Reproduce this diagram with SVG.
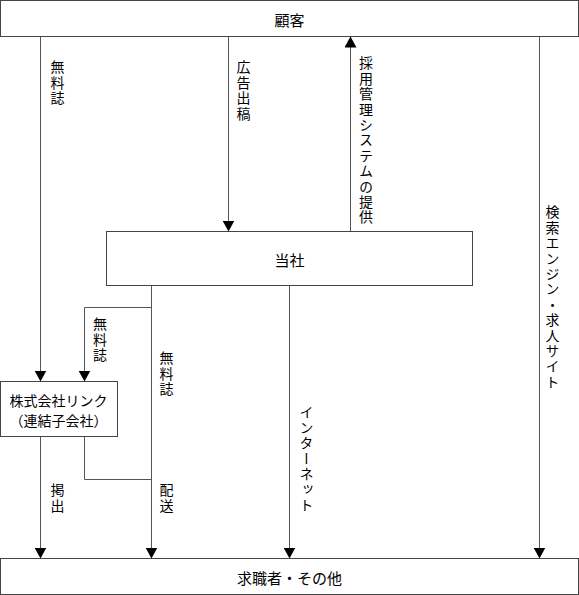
<svg xmlns="http://www.w3.org/2000/svg" width="579" height="595" viewBox="0 0 579 595">
<style>
.box{fill:#fff;stroke:#444;stroke-width:1}
.ln{fill:none;stroke:#555;stroke-width:1}
text{font-family:"Noto Sans CJK JP","Noto Sans",sans-serif;fill:#000}
.t{font-size:15px;text-anchor:middle;dominant-baseline:central}
.s{font-size:14px;text-anchor:middle;dominant-baseline:central}
.v{font-size:14px;writing-mode:vertical-rl;letter-spacing:1.4px;text-anchor:start}
</style>
<defs>
<marker id="ah" markerWidth="11" markerHeight="12" refX="11" refY="6" orient="auto" markerUnits="userSpaceOnUse" viewBox="0 0 11 12">
<path d="M0,0 L11,6 L0,12 Z" fill="#000"/>
</marker>
</defs>
<g id="connectors">
<path class="ln" d="M40.5,36.5 V381.5" marker-end="url(#ah)"/>
<path class="ln" d="M228.5,36.5 V231.5" marker-end="url(#ah)"/>
<path class="ln" d="M350.5,231.5 V36.5" marker-end="url(#ah)"/>
<path class="ln" d="M539.5,36.5 V558.5" marker-end="url(#ah)"/>
<path class="ln" d="M151.5,285.5 V558.5" marker-end="url(#ah)"/>
<path class="ln" d="M151.5,307.5 H84.5 V381.5" marker-end="url(#ah)"/>
<path class="ln" d="M289.5,285.5 V558.5" marker-end="url(#ah)"/>
<path class="ln" d="M40.5,436.5 V558.5" marker-end="url(#ah)"/>
<path class="ln" d="M84.5,436.5 V479.5 H151.5"/>
<text class="v" x="57.5" y="60">無料誌</text>
<text class="v" x="243.5" y="60">広告出稿</text>
<text class="v" x="366" y="56">採用管理システムの提供</text>
<text class="v" x="552.5" y="205">検索エンジン・求人サイト</text>
<text class="v" x="100" y="317">無料誌</text>
<text class="v" x="166.5" y="351">無料誌</text>
<text class="v" x="306.5" y="405">インターネット</text>
<text class="v" x="57.5" y="483">掲出</text>
<text class="v" x="166.5" y="483">配送</text>
</g>
<g id="customer">
<rect class="box" x="0.5" y="0.5" width="578" height="36"/>
<text class="t" x="289.5" y="19">顧客</text>
</g>
<g id="company">
<rect class="box" x="106.5" y="231.5" width="366" height="54"/>
<text class="t" x="289.5" y="259">当社</text>
</g>
<g id="link">
<rect class="box" x="0.5" y="381.5" width="117" height="55"/>
<text class="s" x="58.5" y="399.5">株式会社リンク</text>
<text class="s" x="58.5" y="420">（連結子会社）</text>
</g>
<g id="jobseekers">
<rect class="box" x="0.5" y="558.5" width="578" height="36"/>
<text class="t" x="289.5" y="577">求職者・その他</text>
</g>
</svg>
